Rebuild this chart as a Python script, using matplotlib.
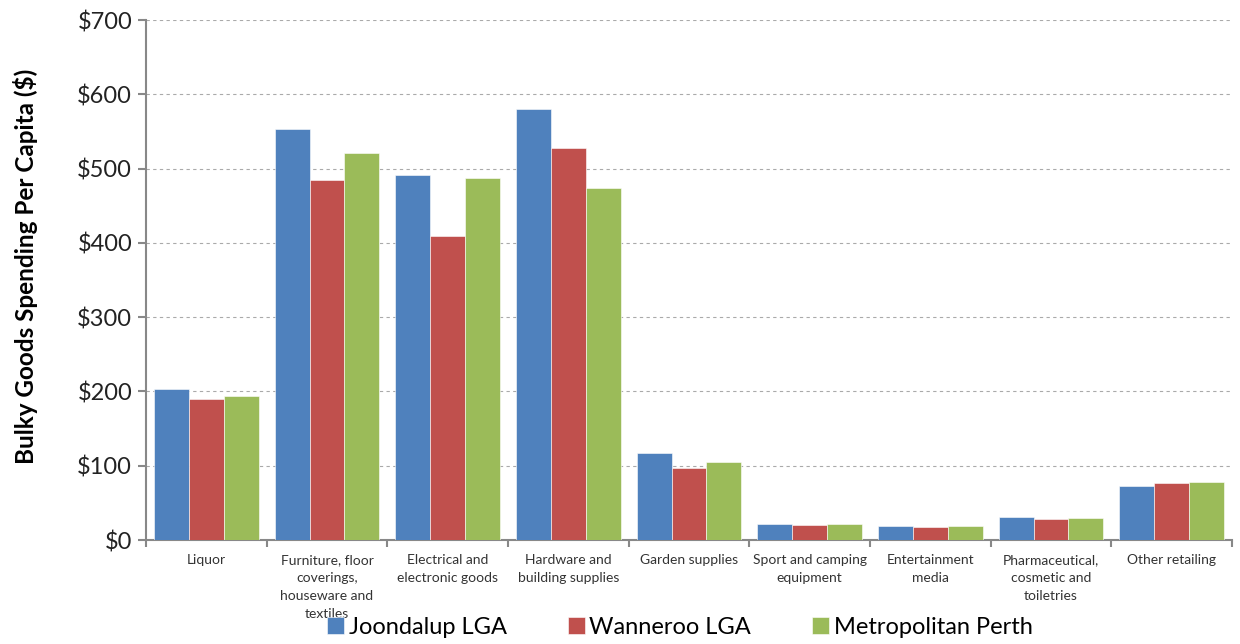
import numpy as np
import matplotlib
matplotlib.use("Agg")
import matplotlib.pyplot as plt
from matplotlib.ticker import FixedLocator, NullFormatter

plt.rcParams['font.family'] = ['Lato', 'DejaVu Sans']

categories = [
    "Liquor",
    "Furniture, floor\ncoverings,\nhouseware and\ntextiles",
    "Electrical and\nelectronic goods",
    "Hardware and\nbuilding supplies",
    "Garden supplies",
    "Sport and camping\nequipment",
    "Entertainment\nmedia",
    "Pharmaceutical,\ncosmetic and\ntoiletries",
    "Other retailing",
]
joondalup = [203, 553, 491, 580, 117, 21, 19, 31, 73]
wanneroo = [190, 485, 409, 528, 97, 20, 17, 28, 77]
metro_perth = [194, 521, 487, 474, 105, 21, 19, 30, 78]
series_names = ["Joondalup LGA", "Wanneroo LGA", "Metropolitan Perth"]
colors = ["#4F81BD", "#C0504D", "#9BBB59"]
y_ticks = [0, 100, 200, 300, 400, 500, 600, 700]

fig = plt.figure(figsize=(12.4, 6.44), dpi=100)
ax = fig.add_axes([146 / 1240, 1 - 540 / 644, (1232 - 146) / 1240, 520 / 644])

x = np.arange(len(categories))
w = 0.29
for i, (vals, name, c) in enumerate(zip([joondalup, wanneroo, metro_perth], series_names, colors)):
    ax.bar(x + (i - 1) * w, vals, width=w, color=c, label=name, zorder=3,
           edgecolor="white", linewidth=0.4)

ax.set_xlim(-0.5, len(categories) - 0.5)
ax.set_ylim(0, 700)
ax.set_yticks(y_ticks)
ax.set_yticklabels([f"${v}" for v in y_ticks], fontsize=17, color="#222222")
ax.yaxis.grid(True, linestyle=(0, (3, 3)), color="#AAAAAA", linewidth=0.8, zorder=0)

ax.set_xticks(x)
ax.set_xticklabels(categories, fontsize=10, color="#333333", linespacing=1.6)
ax.tick_params(axis="x", length=0, pad=10)
ax.xaxis.set_minor_locator(FixedLocator(np.arange(-0.5, len(categories), 1.0)))
ax.xaxis.set_minor_formatter(NullFormatter())
ax.tick_params(axis="x", which="minor", length=5, width=1.5, color="#888888", direction="out")
ax.tick_params(axis="y", length=6, width=1.5, color="#888888", direction="out", pad=4)

for s in ["top", "right"]:
    ax.spines[s].set_visible(False)
for s in ["left", "bottom"]:
    ax.spines[s].set_color("#888888")
    ax.spines[s].set_linewidth(1.5)

fig.text(26 / 1240, 1 - 266 / 644, "Bulky Goods Spending Per Capita ($)", rotation=90,
         fontsize=17.5, fontweight="bold", ha="center", va="center")

fig.legend(loc="center", bbox_to_anchor=(680 / 1240, 1 - 627 / 644), ncol=3, frameon=False,
           fontsize=17, handlelength=0.7, handleheight=0.7, handletextpad=0.2,
           columnspacing=2.6)

fig.savefig("out.png", dpi=100)
